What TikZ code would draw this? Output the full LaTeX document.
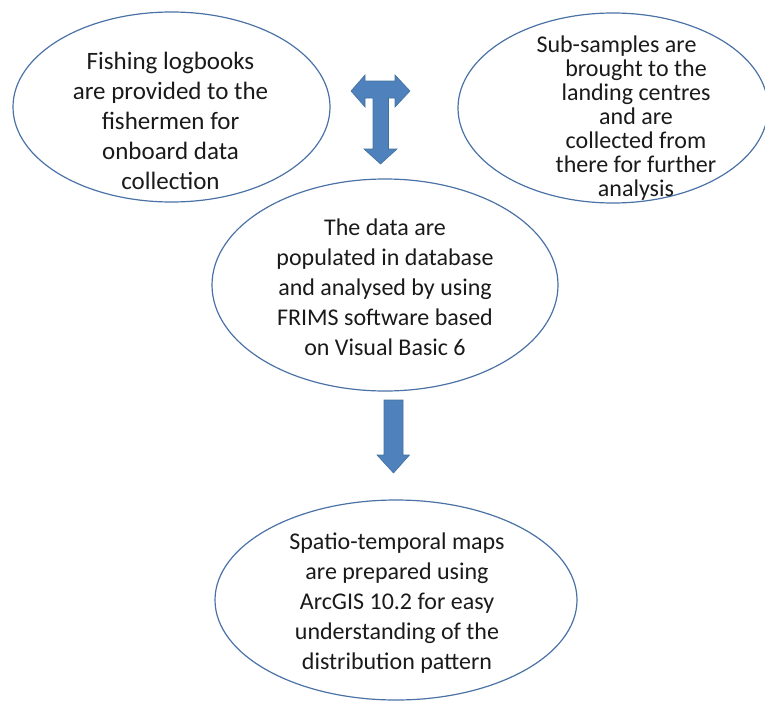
\documentclass[tikz,border=0pt]{standalone}
\usepackage{fontspec}
\setmainfont{Carlito}
\usetikzlibrary{shapes.geometric}
\definecolor{edgeblue}{HTML}{4A72A6}
\definecolor{arrowfill}{HTML}{4F81BD}
\definecolor{arrowedge}{HTML}{41719C}
\definecolor{txt}{HTML}{1A1A1A}
\tikzset{
  bubble/.style={ellipse, draw=edgeblue, line width=1.2pt, inner sep=0pt},
  btext/.style={align=center, text=txt, font=\fontsize{24}{30}\selectfont, inner sep=0pt},
  btextbig/.style={align=center, text=txt, font=\fontsize{25}{30}\selectfont, inner sep=0pt},
  btexttight/.style={align=center, text=txt, font=\fontsize{24}{24}\selectfont, inner sep=0pt},
  blockarrow/.style={fill=arrowfill, draw=arrowedge, line width=0.6pt, line join=miter}
}
\begin{document}
\begin{tikzpicture}[x=1pt, y=-1pt]
\useasboundingbox (0,0) rectangle (765,701);
\clip (0,0) rectangle (765,701);
% ellipses
\node[bubble, minimum width=317pt, minimum height=190pt] (e1) at (171.5,107) {};
\node[bubble, minimum width=310pt, minimum height=190pt] (e2) at (613,108) {};
\node[bubble, minimum width=346pt, minimum height=212pt] (e3) at (385,285) {};
\node[bubble, minimum width=362pt, minimum height=200pt] (e4) at (396,600) {};
% texts
\node[btextbig] (t1) at (170.5,121) {Fishing logbooks\\are provided to the\\fishermen for\\onboard data\\collection};
\node[btexttight] (t2) at (636,118) {Sub-samples are\hspace*{39pt}\\brought to the\\landing centres\\and are\\collected from\\there for further\\analysis};
\node[btext] (t3) at (385,287) {The data are\\populated in database\\and analysed by using\\FRIMS software based\\on Visual Basic 6};
\node[btext] (t4) at (397,603) {Spatio-temporal maps\\are prepared using\\ArcGIS 10.2 for easy\\understanding of the\\distribution pattern};
% T-shaped block arrow
\coordinate (tc) at (380.5,89);
\draw[blockarrow] (351,91) -- (365,75) -- (365,81) -- (395,81) -- (395,75) -- (410,91)
  -- (395,107) -- (395,98) -- (388.5,98) -- (388.5,149) -- (397,149) -- (380.5,164)
  -- (364,149) -- (373,149) -- (373,98) -- (365,98) -- (365,107) -- cycle;
% down block arrow
\coordinate (dc) at (393,436);
\draw[blockarrow] (384,400) -- (403,400) -- (403,455) -- (409.5,455) -- (393.5,473)
  -- (377,455) -- (384,455) -- cycle;
\end{tikzpicture}
\end{document}
